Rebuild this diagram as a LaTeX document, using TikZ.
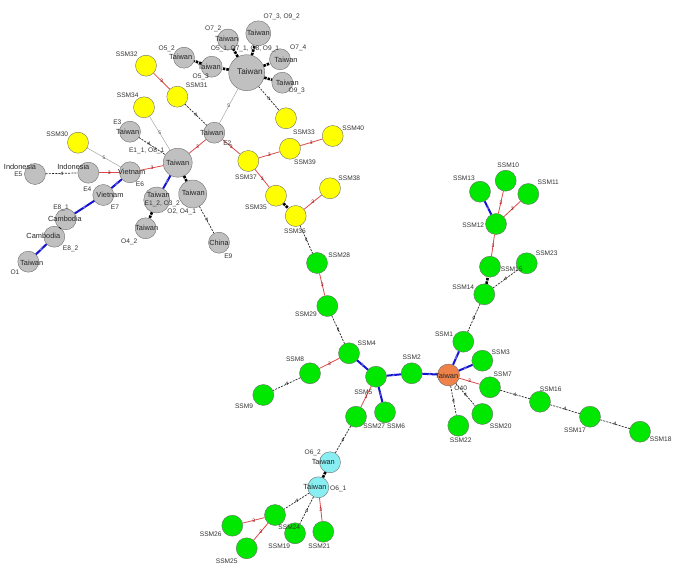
\documentclass[tikz,border=0pt]{standalone}
\usepackage{fontspec}
\setmainfont{Liberation Sans}
\definecolor{ngray}{RGB}{192,192,192}
\definecolor{ngreen}{RGB}{0,232,0}
\definecolor{nyellow}{RGB}{255,255,0}
\definecolor{norange}{RGB}{238,130,74}
\definecolor{ncyan}{RGB}{136,238,242}
\definecolor{ered}{RGB}{222,72,72}
\definecolor{eblue}{RGB}{20,20,205}
\definecolor{rim}{RGB}{110,110,110}
\tikzset{
  hap/.style={circle,draw=rim,line width=0.4pt,inner sep=0pt,minimum size=21pt},
  gn/.style={hap,fill=ngray},
  yn/.style={hap,fill=nyellow},
  gr/.style={hap,fill=ngreen},
  orn/.style={hap,fill=norange,minimum size=22pt},
  cy/.style={hap,fill=ncyan},
  nm/.style={font=\fontsize{7.4}{8}\selectfont,text=black!85,inner sep=0pt},
  idl/.style={font=\fontsize{6.6}{7}\selectfont,text=black!80,inner sep=0pt},
  elab/.style={font=\fontsize{5}{5}\selectfont,inner sep=0pt,midway},
  ethree/.style={draw=ered,line width=0.8pt},
  efour/.style={draw=black!85,line width=0.7pt,dash pattern=on 2pt off 1.2pt},
  etwo/.style={draw=eblue,line width=2pt},
  eone/.style={draw=black,line width=2.6pt,dash pattern=on 2.5pt off 1pt},
  efive/.style={draw=black!35,line width=0.5pt},
}
\begin{document}
\begin{tikzpicture}[x=1pt,y=-1pt]
\useasboundingbox (0,0) rectangle (685,577);
% ---------- gray nodes
\node[gn,minimum size=36pt] (hub) at (246.7,72.7) {};
\node[gn,minimum size=25pt] (o73) at (258.3,33.3) {};
\node[gn] (o72) at (228,39.5) {};
\node[gn] (o74) at (280,59.3) {};
\node[gn] (o93) at (282.3,82.7) {};
\node[gn] (o51) at (211.7,66.7) {};
\node[gn] (o52) at (184,57.7) {};
\node[gn] (e2) at (214.3,132.7) {};
\node[gn] (e3) at (130,131.7) {};
\node[gn,minimum size=29pt] (big) at (177.7,162.7) {};
\node[gn] (e6) at (130,172.3) {};
\node[gn] (e4) at (88.3,172.7) {};
\node[gn] (e5) at (35,174) {};
\node[gn] (e7) at (103.3,195) {};
\node[gn] (e81) at (65.7,219.3) {};
\node[gn] (e82) at (54.3,236.7) {};
\node[gn] (o1) at (28.3,261.7) {};
\node[gn,minimum size=26pt] (e12) at (156.7,200) {};
\node[gn,minimum size=28pt] (o2) at (192.7,194) {};
\node[gn] (o42) at (145.7,228.3) {};
\node[gn] (e9) at (219,242.7) {};
% ---------- yellow nodes
\node[yn] (y32) at (146,65.7) {};
\node[yn] (y31) at (177.3,96.7) {};
\node[yn] (y34) at (144,107.3) {};
\node[yn] (y30) at (78,142.7) {};
\node[yn] (y33) at (286,118.3) {};
\node[yn] (y39) at (290,148.7) {};
\node[yn] (y40) at (332.7,136) {};
\node[yn] (y37) at (248.3,161) {};
\node[yn] (y35) at (276,195.7) {};
\node[yn] (y36) at (295.7,216) {};
\node[yn] (y38) at (330,188.3) {};
% ---------- green nodes
\node[gr] (s28) at (317,263) {};
\node[gr] (s29) at (327.3,306) {};
\node[gr] (s4) at (349,353.3) {};
\node[gr] (s8) at (310,373.3) {};
\node[gr] (s9) at (263.3,395) {};
\node[gr] (s5) at (376,376.7) {};
\node[gr] (s2) at (411.7,373.3) {};
\node[gr] (s27) at (356,416.7) {};
\node[gr] (s6) at (385,412.3) {};
\node[gr] (s1) at (463.3,341.7) {};
\node[gr] (s3) at (482.3,360.7) {};
\node[gr] (s7) at (490,387.3) {};
\node[gr] (s16) at (540,401.7) {};
\node[gr] (s17) at (590,416.7) {};
\node[gr] (s18) at (640,431.7) {};
\node[gr] (s20) at (482.3,414) {};
\node[gr] (s22) at (458.3,425.7) {};
\node[gr] (s14) at (484.3,294.3) {};
\node[gr] (s15) at (490,266.7) {};
\node[gr] (s23) at (526.7,263.3) {};
\node[gr] (s12) at (496,224) {};
\node[gr] (s13) at (480,191.7) {};
\node[gr] (s10) at (505.7,180.7) {};
\node[gr] (s11) at (528.3,194) {};
\node[gr] (s24) at (275,515) {};
\node[gr] (s26) at (232.3,525.7) {};
\node[gr] (s25) at (246.7,548.3) {};
\node[gr] (s19) at (295,533.3) {};
\node[gr] (s21) at (323.3,531.7) {};
% ---------- orange and cyan
\node[orn] (o40) at (448.5,375) {};
\node[cy] (c62) at (330,462.3) {};
\node[cy] (c61) at (318.3,487.3) {};
% ---------- edges
\draw[eone] (hub) -- (o73);
\draw[eone] (hub) -- (o72);
\draw[eone] (hub) -- (o74);
\draw[eone] (hub) -- (o93);
\draw[eone] (hub) -- (o51);
\draw[eone] (o51) -- (o52);
\draw[efour] (hub) -- node[elab,text=black]{4} (y33);
\draw[efive] (hub) -- node[elab,text=black!70]{5} (e2);
\draw[ethree] (y32) -- node[elab,text=red!50!black]{3} (y31);
\draw[efour] (y31) -- node[elab,text=black]{4} (e2);
\draw[efive] (y34) -- node[elab,text=black!70]{5} (big);
\draw[efour] (e3) -- node[elab,pos=0.38,text=black]{4} (big);
\draw[ethree] (e2) -- node[elab,text=red!50!black]{3} (big);
\draw[ethree] (e2) -- node[elab,text=red!50!black]{3} (y37);
\draw[ethree] (y37) -- node[elab,text=red!50!black]{3} (y39);
\draw[ethree] (y39) -- node[elab,text=red!50!black]{3} (y40);
\draw[ethree] (y37) -- node[elab,text=red!50!black]{3} (y35);
\draw[eone] (y35) -- (y36);
\draw[ethree] (y36) -- node[elab,text=red!50!black]{3} (y38);
\draw[efour] (y36) -- node[elab,text=black]{4} (s28);
\draw[efive] (y30) -- node[elab,text=black!70]{5} (e6);
\draw[ethree] (e6) -- node[elab,text=red!50!black]{3} (big);
\draw[ethree] (e4) -- node[elab,text=red!50!black]{3} (e6);
\draw[efour] (e5) -- node[elab,text=black]{4} (e4);
\draw[etwo] (e6) -- node[elab,text=blue!30]{2} (e7);
\draw[etwo] (e7) -- node[elab,text=blue!30]{2} (e81);
\draw[eone] (e81) -- (e82);
\draw[etwo] (e82) -- node[elab,text=blue!30]{2} (o1);
\draw[etwo] (big) -- node[elab,text=blue!30]{2} (e12);
\draw[eone] (big) -- (o2);
\draw[eone] (e12) -- (o42);
\draw[efour] (o2) -- node[elab,text=black]{4} (e9);
\draw[ethree] (s28) -- node[elab,text=red!50!black]{3} (s29);
\draw[efour] (s29) -- node[elab,text=black]{4} (s4);
\draw[ethree] (s4) -- node[elab,text=red!50!black]{3} (s8);
\draw[efour] (s8) -- node[elab,text=black]{4} (s9);
\draw[etwo] (s4) -- node[elab,text=blue!30]{2} (s5);
\draw[etwo] (s5) -- node[elab,text=blue!30]{2} (s2);
\draw[etwo] (s2) -- node[elab,text=blue!30]{2} (o40);
\draw[ethree] (s5) -- node[elab,text=red!50!black]{3} (s27);
\draw[etwo] (s5) -- node[elab,text=blue!30]{2} (s6);
\draw[efour] (s27) -- node[elab,text=black]{4} (c62);
\draw[eone] (c62) -- (c61);
\draw[efour] (c61) -- node[elab,text=black]{4} (s24);
\draw[efour] (c61) -- node[elab,text=black]{4} (s19);
\draw[ethree] (c61) -- node[elab,text=red!50!black]{3} (s21);
\draw[ethree] (s24) -- node[elab,text=red!50!black]{3} (s26);
\draw[ethree] (s24) -- node[elab,text=red!50!black]{3} (s25);
\draw[etwo] (o40) -- node[elab,text=blue!30]{2} (s1);
\draw[etwo] (o40) -- node[elab,text=blue!30]{2} (s3);
\draw[ethree] (o40) -- node[elab,text=red!50!black]{3} (s7);
\draw[efour] (o40) -- node[elab,text=black]{4} (s20);
\draw[efour] (o40) -- node[elab,text=black]{4} (s22);
\draw[efour] (s7) -- node[elab,text=black]{4} (s16);
\draw[efour] (s16) -- node[elab,text=black]{4} (s17);
\draw[efour] (s17) -- node[elab,text=black]{4} (s18);
\draw[efour] (s1) -- node[elab,text=black]{4} (s14);
\draw[eone] (s14) -- (s15);
\draw[efour] (s14) -- node[elab,text=black]{4} (s23);
\draw[ethree] (s15) -- node[elab,text=red!50!black]{3} (s12);
\draw[etwo] (s12) -- node[elab,text=blue!30]{2} (s13);
\draw[ethree] (s12) -- node[elab,text=red!50!black]{3} (s10);
\draw[ethree] (s12) -- node[elab,text=red!50!black]{3} (s11);
% ---------- names inside nodes
\node[nm,font=\fontsize{8.2}{9}\selectfont] (thub) at (250,71.7) {Taiwan};
\node[nm] (to73) at (258.3,33.3) {Taiwan};
\node[nm] (to72) at (226.7,39.3) {Taiwan};
\node[nm] (to74) at (286,60) {Taiwan};
\node[nm] (to93) at (287.3,82.7) {Taiwan};
\node[nm] (to51) at (209.3,66.7) {Taiwan};
\node[nm] (to52) at (180.7,56.7) {Taiwan};
\node[nm] (te2) at (211.7,132.7) {Taiwan};
\node[nm] (te3) at (127.7,131.7) {Taiwan};
\node[nm] (tbig) at (177.7,162.7) {Taiwan};
\node[nm] (te6) at (131.7,172.3) {Vietnam};
\node[nm] (te4) at (73.3,167.3) {Indonesia};
\node[nm] (te5) at (20,167.3) {Indonesia};
\node[nm] (te7) at (110,195) {Vietnam};
\node[nm] (te81) at (65,219.3) {Cambodia};
\node[nm] (te82) at (43.3,236) {Cambodia};
\node[nm] (to1) at (31.7,262.7) {Taiwan};
\node[nm] (te12) at (158.3,195.3) {Taiwan};
\node[nm] (to2) at (193.3,193.3) {Taiwan};
\node[nm] (to42) at (146.7,228.3) {Taiwan};
\node[nm] (te9) at (219,243.3) {China};
\node[nm] (to40) at (446.7,376) {Taiwan};
\node[nm] (tc62) at (323.3,462.3) {Taiwan};
\node[nm] (tc61) at (315,487.3) {Taiwan};
% ---------- identifiers
\node[idl] (l1) at (281.7,16.7) {O7\_3, O9\_2};
\node[idl] (l2) at (213.3,29.3) {O7\_2};
\node[idl] (l3) at (245,49.3) {O5\_1, O7\_1, O8, O9\_1};
\node[idl] (l4) at (298.3,48.3) {O7\_4};
\node[idl] (l5) at (296.7,90.7) {O9\_3};
\node[idl] (l6) at (166.7,49.3) {O5\_2};
\node[idl] (l7) at (200.7,77.3) {O5\_3};
\node[idl] (l8) at (196.7,85) {SSM31};
\node[idl] (l9) at (126.7,54) {SSM32};
\node[idl] (l10) at (127.7,95.7) {SSM34};
\node[idl] (l11) at (117.3,122.7) {E3};
\node[idl] (l12) at (57.3,134.3) {SSM30};
\node[idl] (l13) at (146.7,150.7) {E1\_1, O8\_1};
\node[idl] (l14) at (140,184) {E6};
\node[idl] (l15) at (87.3,189) {E4};
\node[idl] (l16) at (18.3,174.5) {E5};
\node[idl] (l17) at (115,207.7) {E7};
\node[idl] (l18) at (61,207.7) {E8\_1};
\node[idl] (l19) at (70.7,249.3) {E8\_2};
\node[idl] (l20) at (15,272.7) {O1};
\node[idl] (l21) at (162.3,204) {E1\_2, O3\_2};
\node[idl] (l22) at (181.7,211.7) {O2, O4\_1};
\node[idl] (l23) at (129.3,241.7) {O4\_2};
\node[idl] (l24) at (228.3,256.7) {E9};
\node[idl] (l25) at (227.3,143.3) {E2};
\node[idl] (l26) at (304,132.3) {SSM33};
\node[idl] (l27) at (305,162.7) {SSM39};
\node[idl] (l28) at (353.3,128.3) {SSM40};
\node[idl] (l29) at (246,177.3) {SSM37};
\node[idl] (l30) at (256,207.7) {SSM35};
\node[idl] (l31) at (295,231.7) {SSM36};
\node[idl] (l32) at (349.3,178.3) {SSM38};
\node[idl] (l33) at (339.3,255) {SSM28};
\node[idl] (l34) at (306,314) {SSM29};
\node[idl] (l35) at (366.7,343.3) {SSM4};
\node[idl] (l36) at (295,359) {SSM8};
\node[idl] (l37) at (244,406.7) {SSM9};
\node[idl] (l38) at (363.3,392.3) {SSM5};
\node[idl] (l39) at (411.7,357.3) {SSM2};
\node[idl] (l40) at (374.3,426) {SSM27};
\node[idl] (l41) at (396,426.7) {SSM6};
\node[idl] (l42) at (444,334) {SSM1};
\node[idl] (l43) at (500.7,352.7) {SSM3};
\node[idl] (l44) at (460.7,388.3) {O40};
\node[idl] (l45) at (502.7,374) {SSM7};
\node[idl] (l46) at (550.7,389) {SSM16};
\node[idl] (l47) at (575,430.7) {SSM17};
\node[idl] (l48) at (660.7,439.3) {SSM18};
\node[idl] (l49) at (500.7,426.7) {SSM20};
\node[idl] (l50) at (460.7,440.7) {SSM22};
\node[idl] (l51) at (508.3,165) {SSM10};
\node[idl] (l52) at (464,178.3) {SSM13};
\node[idl] (l53) at (548.3,182.7) {SSM11};
\node[idl] (l54) at (473.3,225) {SSM12};
\node[idl] (l55) at (511.7,269) {SSM15};
\node[idl] (l56) at (546.7,253.3) {SSM23};
\node[idl] (l57) at (463.3,287.3) {SSM14};
\node[idl] (l58) at (312.7,452.7) {O6\_2};
\node[idl] (l59) at (338.3,489.3) {O6\_1};
\node[idl] (l60) at (289.3,527.3) {SSM24};
\node[idl] (l61) at (210.7,534) {SSM26};
\node[idl] (l62) at (226.7,561.7) {SSM25};
\node[idl] (l63) at (279.3,546.7) {SSM19};
\node[idl] (l64) at (319.3,546.7) {SSM21};
\end{tikzpicture}
\end{document}
